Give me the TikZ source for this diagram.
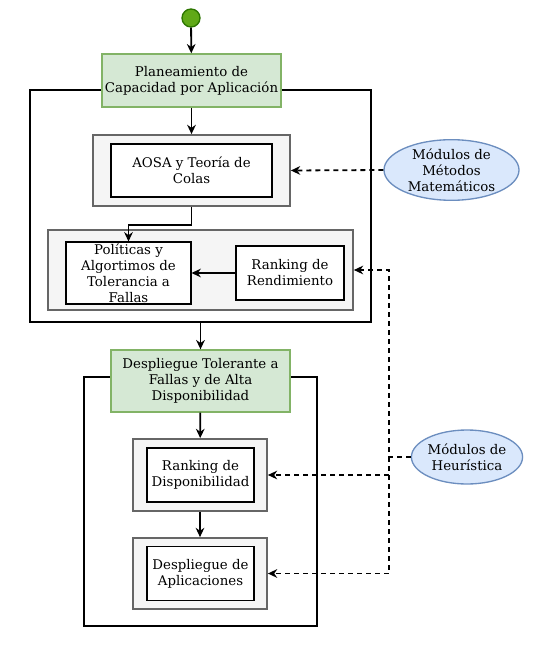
\documentclass[tikz,border=0pt]{standalone}
\usepackage{fontspec}
\setmainfont{DejaVu Serif}
\usetikzlibrary{arrows.meta,shapes.geometric}

\definecolor{greenfill}{HTML}{D5E8D4}
\definecolor{greenline}{HTML}{82B366}
\definecolor{bluefill}{HTML}{DAE8FC}
\definecolor{blueline}{HTML}{6C8EBF}
\definecolor{grayfill}{HTML}{F5F5F5}
\definecolor{grayline}{HTML}{666666}
\definecolor{startfill}{HTML}{60A917}
\definecolor{startline}{HTML}{2D7600}

\tikzset{
  phase/.style={draw=greenline, fill=greenfill, line width=1pt, align=center, inner sep=0pt},
  frame/.style={draw=black, line width=1.3pt, inner sep=0pt},
  outerbox/.style={draw=grayline, fill=grayfill, line width=1.3pt, inner sep=0pt},
  innerbox/.style={draw=black, fill=white, line width=0.8pt, align=center, inner sep=0pt},
  module/.style={ellipse, draw=blueline, fill=bluefill, line width=1pt, align=center, inner sep=0pt},
  flow/.style={-{Stealth[length=7pt,width=6.5pt]}, line width=1.35pt},
  hint/.style={flow, dash pattern=on 3.75pt off 3pt}
}

\begin{document}
\begin{tikzpicture}[x=0.75pt,y=-0.75pt,font=\fontsize{10}{12}\selectfont]
  \useasboundingbox (0,0) rectangle (535,645);

  % Containers
  \node[frame, minimum width=255.75pt, minimum height=174pt] (cont1) at (200.5,206) {};
  \node[frame, minimum width=174.75pt, minimum height=186.75pt] (cont2) at (200.5,501.5) {};

  % Start and phases
  \node[circle, draw=startline, fill=startfill, line width=1pt, minimum size=13.5pt, inner sep=0pt] (start) at (191,18) {};
  \node[phase, minimum width=134.25pt, minimum height=39.75pt] (plan) at (191.5,80.5) {Planeamiento de\\Capacidad por Aplicación};
  \node[phase, minimum width=134.25pt, minimum height=46.5pt] (desp) at (200.5,381) {Despliegue Tolerante a\\Fallas y de Alta\\Disponibilidad};

  % Capacity planning steps
  \node[outerbox, minimum width=147.75pt, minimum height=53.25pt] (aosaout) at (191.5,170.5) {};
  \node[innerbox, minimum width=120.75pt, minimum height=39.75pt] (aosa) at (191.5,170.5) {AOSA y Teoría de\\Colas};
  \node[outerbox, minimum width=228.75pt, minimum height=60pt] (polout) at (200.5,270) {};
  \node[innerbox, minimum width=93.75pt, minimum height=46.5pt] (pol) at (128.5,273) {Políticas y\\Algortimos de\\Tolerancia a\\Fallas};
  \node[innerbox, minimum width=81pt, minimum height=40.5pt] (rend) at (290,273) {Ranking de\\Rendimiento};

  % Deployment steps
  \node[outerbox, minimum width=100.5pt, minimum height=54pt] (dispout) at (200,475) {};
  \node[innerbox, minimum width=80.25pt, minimum height=40.5pt] (disp) at (200.5,475) {Ranking de\\Disponibilidad};
  \node[outerbox, minimum width=100.5pt, minimum height=53.25pt] (aplout) at (200,573.5) {};
  \node[innerbox, minimum width=80.25pt, minimum height=40.5pt] (apl) at (200.5,573.5) {Despliegue de\\Aplicaciones};

  % Modules
  \node[module, minimum width=101.25pt, minimum height=40.5pt] (metodos) at (451.5,170) {Módulos de\\Métodos\\Matemáticos};
  \node[module, minimum width=78pt, minimum height=40.5pt] (heur) at (467,457) {Módulos de\\Heurística};
  \coordinate (bus) at (389,457);

  % Flow
  \draw[flow] (start) -- (plan);
  \draw[flow] (plan) -- (aosaout);
  \draw[flow] (aosaout.south) -- ++(0,18) -| (pol.north);
  \draw[flow] (rend) -- (pol);
  \draw[flow] (cont1.south) -- (desp.north);
  \draw[flow] (desp) -- (dispout);
  \draw[flow] (dispout) -- (aplout);

  % Module support
  \draw[hint] (metodos.west) -- (aosaout.east);
  \draw[hint] (heur.west) -- (bus) |- (polout.east);
  \draw[hint] (bus) |- (dispout.east);
  \draw[hint] (bus) |- (aplout.east);
\end{tikzpicture}
\end{document}
